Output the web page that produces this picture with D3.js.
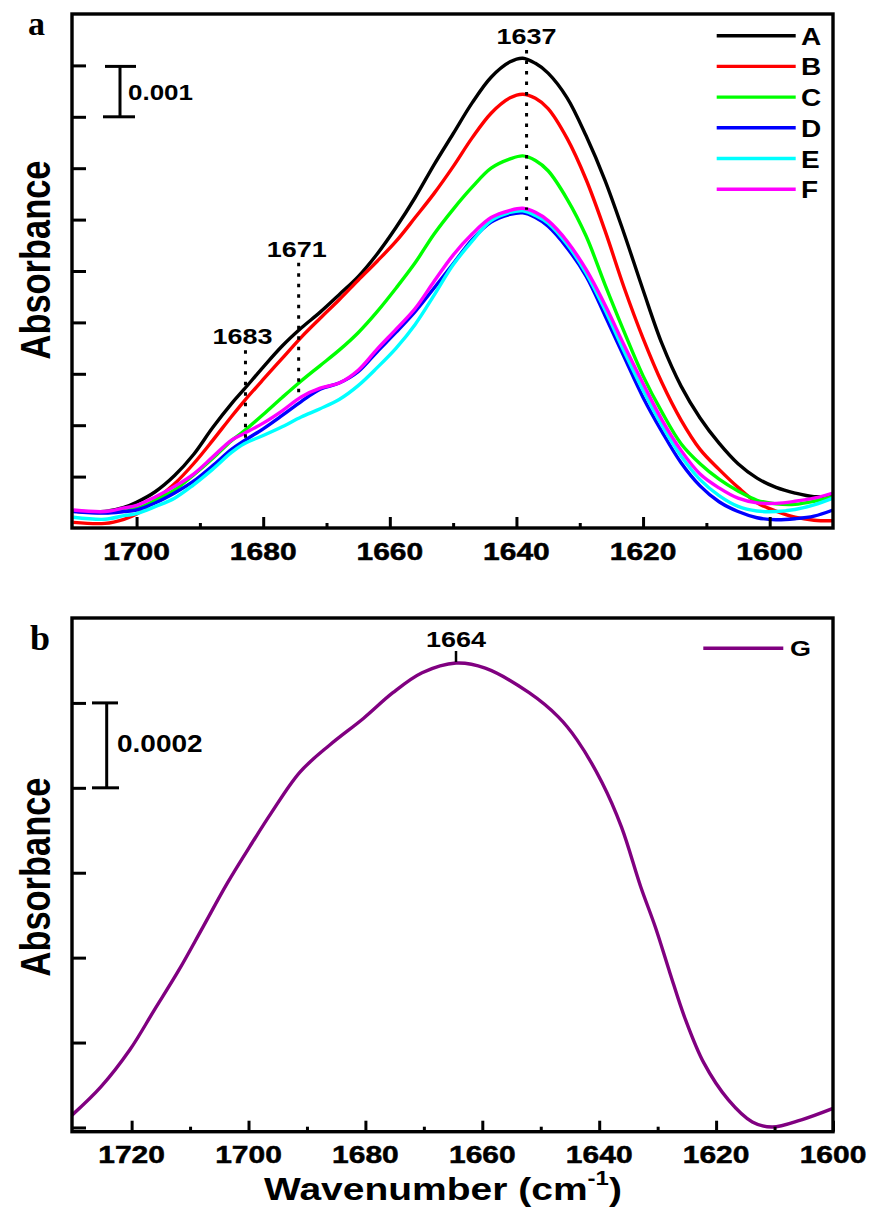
<!DOCTYPE html>
<html><head><meta charset="utf-8">
<script src="https://cdn.jsdelivr.net/npm/d3@7"></script>
<style>body{margin:0;background:#fff}svg{display:block}</style>
</head><body>
<svg id="chart" width="872" height="1207"></svg>
<script>
// ---------------- DATA ----------------
// Panel a: wavenumber grid (cm-1) and absorbance in units of 1e-3
const wavenumbersA = [1710,1705,1702,1700,1697,1694,1691,1688,1685,1683,1680,1677,1674,1671,1668,1665,1662,1659,1656,1653,1650,1647,1644,1641,1639,1637,1635,1632,1629,1626,1623,1620,1617,1614,1611,1608,1605,1602,1599,1596,1593,1590];
const seriesNamesA = ["A","B","C","D","E","F"];
const absA = [0.33,0.32,0.40,0.50,0.71,1.02,1.43,1.95,2.42,2.70,3.13,3.54,3.89,4.20,4.54,4.89,5.33,5.85,6.43,7.07,7.67,8.27,8.77,9.07,9.14,9.04,8.85,8.37,7.63,6.76,5.73,4.63,3.58,2.76,2.14,1.65,1.25,0.97,0.79,0.68,0.61,0.62];
const absB = [0.11,0.09,0.17,0.27,0.55,0.86,1.25,1.70,2.17,2.47,2.89,3.30,3.71,4.08,4.44,4.82,5.19,5.58,6.04,6.51,7.03,7.59,8.07,8.37,8.44,8.36,8.16,7.58,6.78,5.78,4.68,3.69,2.82,2.10,1.53,1.14,0.79,0.49,0.33,0.21,0.15,0.14];
const absC = [0.33,0.30,0.35,0.38,0.54,0.74,1.03,1.35,1.70,1.89,2.21,2.54,2.86,3.16,3.46,3.80,4.21,4.67,5.16,5.72,6.20,6.63,7.00,7.18,7.24,7.15,6.95,6.40,5.68,4.73,3.82,2.96,2.25,1.64,1.25,0.95,0.72,0.54,0.47,0.46,0.52,0.61];
const absD = [0.32,0.29,0.32,0.35,0.49,0.68,0.91,1.21,1.53,1.70,1.93,2.19,2.46,2.70,2.82,3.04,3.43,3.81,4.21,4.67,5.14,5.61,5.95,6.10,6.13,6.04,5.87,5.45,4.90,4.13,3.33,2.54,1.87,1.27,0.82,0.51,0.32,0.20,0.16,0.18,0.23,0.35];
const absE = [0.21,0.17,0.24,0.28,0.42,0.58,0.84,1.14,1.47,1.64,1.80,1.97,2.16,2.32,2.50,2.77,3.12,3.50,3.96,4.53,5.12,5.58,5.98,6.14,6.17,6.08,5.93,5.52,4.96,4.24,3.44,2.68,1.99,1.40,0.94,0.63,0.42,0.33,0.32,0.36,0.45,0.58];
const absF = [0.35,0.32,0.39,0.44,0.61,0.81,1.05,1.38,1.71,1.84,2.04,2.28,2.55,2.72,2.82,3.07,3.48,3.87,4.27,4.80,5.31,5.72,6.04,6.18,6.22,6.14,5.98,5.58,5.03,4.34,3.56,2.81,2.10,1.51,1.05,0.78,0.58,0.49,0.48,0.52,0.58,0.68];
const xMajorTicksA = [1700,1680,1660,1640,1620,1600];
const xMinorTicksA = [1690,1670,1650,1630,1610];
const yTicksA = [1,2,3,4,5,6,7,8,9];
const annotationsA = [
  {label:"1683", wn:1682.8, top:3.46, bottom:1.71},
  {label:"1671", wn:1674.4, top:5.16, bottom:2.55},
  {label:"1637", wn:1638.4, top:9.30, bottom:6.19}
];
const scaleBarA = {from:8, to:9, label:"0.001"};

// Panel b: wavenumber (cm-1) and absorbance in units of 1e-4
const wavenumbersG = [1730.2,1725.3,1720.3,1716.1,1711.9,1707.8,1703.6,1699.4,1696.1,1691.2,1686.1,1680.3,1675.3,1670.3,1664.5,1659.5,1652.0,1647.0,1643.8,1639.5,1636.2,1632.9,1630.4,1627.9,1625.4,1622.1,1617.9,1613.8,1610.4,1605.4,1599.8];
const absG = [0.29,0.95,1.83,2.77,3.71,4.72,5.76,6.70,7.41,8.37,9.01,9.64,10.24,10.71,10.94,10.82,10.24,9.67,9.13,8.12,7.08,5.67,4.72,3.64,2.60,1.52,0.65,0.13,0.01,0.18,0.46];
const xMajorTicksB = [1720,1700,1680,1660,1640,1620,1600];
const xMinorTicksB = [1710,1690,1670,1650,1630,1610];
const yTicksB = [0,2,4,6,8,10];
const annotationsB = [{label:"1664", wn:1664.5, value:10.94}];
const scaleBarB = {from:8, to:10, label:"0.0002"};

// ---------------- STYLE ----------------
const colorsA = {A:"#000000",B:"#ff0000",C:"#00ff00",D:"#0000ff",E:"#00ffff",F:"#ff00ff"};
const colorG = "#800080";
const FONT = "'Liberation Sans', Arial, Helvetica, sans-serif";
const SERIF = "'Liberation Serif', 'Times New Roman', serif";
const K = 0.84;

const svg = d3.select("#chart");

function hText(x, y, str, size, anchor, k) {
  return svg.append("text")
    .attr("transform", `translate(${x},${y}) scale(1,${k === undefined ? K : k})`)
    .attr("text-anchor", anchor || "middle")
    .attr("font-family", FONT).attr("font-weight", "bold")
    .attr("font-size", size).attr("fill", "#000").text(str);
}

function panel(cfg) {
  const {x, y} = cfg;
  const g = svg.append("g");
  const clipId = "clip" + cfg.id;
  svg.append("clipPath").attr("id", clipId).append("rect")
    .attr("x", x.range()[0]).attr("y", y.range()[1])
    .attr("width", x.range()[1] - x.range()[0]).attr("height", y.range()[0] - y.range()[1]);

  // curves
  const line = d3.line().x(d => x(d[0])).y(d => y(d[1])).curve(d3.curveCatmullRom.alpha(0.5));
  const cg = g.append("g").attr("clip-path", `url(#${clipId})`);
  cfg.series.forEach(s => {
    cg.append("path").datum(s.wn.map((w, i) => [w, s.values[i]]))
      .attr("d", line).attr("fill", "none").attr("stroke", s.color)
      .attr("stroke-width", 3.4).attr("stroke-linejoin", "round");
  });

  // ticks via d3 axes
  const yB = y.range()[0];
  const majorAx = g.append("g").attr("transform", `translate(0,${yB})`)
    .call(d3.axisBottom(x).tickValues(cfg.xMajor).tickSize(-11).tickFormat(""));
  const minorAx = g.append("g").attr("transform", `translate(0,${yB})`)
    .call(d3.axisBottom(x).tickValues(cfg.xMinor).tickSize(-5).tickFormat(""));
  const leftAx = g.append("g").attr("transform", `translate(${x.range()[0]},0)`)
    .call(d3.axisLeft(y).tickValues(cfg.yTicks).tickSize(-14).tickFormat(""));
  [majorAx, minorAx, leftAx].forEach(a => {
    a.select(".domain").remove();
    a.selectAll("line").attr("stroke", "#000").attr("stroke-width", 3);
  });

  // frame
  g.append("rect").attr("x", x.range()[0]).attr("y", y.range()[1])
    .attr("width", x.range()[1] - x.range()[0]).attr("height", y.range()[0] - y.range()[1])
    .attr("fill", "none").attr("stroke", "#000").attr("stroke-width", 3.4);

  // tick labels
  cfg.xMajor.forEach(v => {
    if (x(v) < x.range()[1] + 1) hText(x(v), cfg.tickLabelY, String(v), 30, "middle", 0.82)
      .attr("stroke", "#000").attr("stroke-width", 0.6);
  });
  return g;
}

// ---------------- PANEL A ----------------
const xA = d3.scaleLinear().domain([1710.2, 1590]).range([72, 833]);
const yA = d3.scaleLinear().domain([0, 10]).range([528, 14]);
const absByName = {A:absA, B:absB, C:absC, D:absD, E:absE, F:absF};
panel({
  id: "a", x: xA, y: yA,
  series: seriesNamesA.map(n => ({wn: wavenumbersA, values: absByName[n], color: colorsA[n]})),
  xMajor: xMajorTicksA, xMinor: xMinorTicksA, yTicks: yTicksA, tickLabelY: 560
});

// annotations (dotted lines)
annotationsA.forEach(a => {
  svg.append("line").attr("x1", xA(a.wn)).attr("x2", xA(a.wn))
    .attr("y1", yA(a.top)).attr("y2", yA(a.bottom))
    .attr("stroke", "#000").attr("stroke-width", 3).attr("stroke-dasharray", "3.5,7");
  hText(xA(a.wn) - (a.label === "1683" ? 3 : (a.label === "1671" ? 2 : 0)), yA(a.top) - 6, a.label, 27, "middle", 0.85);
});

// scale bar a
{
  const bx = 120;
  const t = yA(scaleBarA.to), b = yA(scaleBarA.from);
  svg.append("line").attr("x1", bx).attr("x2", bx).attr("y1", t).attr("y2", b).attr("stroke", "#000").attr("stroke-width", 3);
  svg.append("line").attr("x1", 105).attr("x2", 136).attr("y1", t + 1).attr("y2", t + 1).attr("stroke", "#000").attr("stroke-width", 3);
  svg.append("line").attr("x1", 103).attr("x2", 135).attr("y1", b).attr("y2", b).attr("stroke", "#000").attr("stroke-width", 3);
  hText(128, 100, scaleBarA.label, 26, "start", 0.85);
}

// legend a
seriesNamesA.forEach((n, i) => {
  const ly = 35.7 + i * 30.7;
  svg.append("line").attr("x1", 716.7).attr("x2", 795.7).attr("y1", ly).attr("y2", ly)
    .attr("stroke", colorsA[n]).attr("stroke-width", 3.4);
  hText(801, ly + 9, n, 28, "start", 0.85);
});

// panel letter and y label
svg.append("text").attr("x", 28).attr("y", 35).attr("font-family", SERIF).attr("font-weight", "bold")
  .attr("font-size", 34).text("a");
svg.append("text").attr("transform", "translate(50,260) rotate(-90) scale(0.82,1)")
  .attr("text-anchor", "middle").attr("font-family", FONT).attr("font-weight", "bold")
  .attr("font-size", 42).text("Absorbance");

// ---------------- PANEL B ----------------
const xB = d3.scaleLinear().domain([1730.2, 1600]).range([72, 833]);
const yBs = d3.scaleLinear().domain([-0.1, 12]).range([1131.7, 618]);
panel({
  id: "b", x: xB, y: yBs,
  series: [{wn: wavenumbersG, values: absG, color: colorG}],
  xMajor: xMajorTicksB, xMinor: xMinorTicksB, yTicks: yTicksB, tickLabelY: 1163
});

annotationsB.forEach(a => {
  svg.append("line").attr("x1", xB(a.wn)).attr("x2", xB(a.wn))
    .attr("y1", yBs(a.value) - 12).attr("y2", yBs(a.value) - 1)
    .attr("stroke", "#000").attr("stroke-width", 2.5);
  hText(xB(a.wn), 647, a.label, 27, "middle", 0.85);
});

// scale bar b
{
  const bx = 106.7;
  const t = yBs(scaleBarB.to), b = yBs(scaleBarB.from);
  svg.append("line").attr("x1", bx).attr("x2", bx).attr("y1", t).attr("y2", b).attr("stroke", "#000").attr("stroke-width", 3);
  svg.append("line").attr("x1", 92).attr("x2", 118).attr("y1", t).attr("y2", t).attr("stroke", "#000").attr("stroke-width", 3);
  svg.append("line").attr("x1", 92).attr("x2", 119).attr("y1", b).attr("y2", b).attr("stroke", "#000").attr("stroke-width", 3);
  hText(117, 752, scaleBarB.label, 28, "start", 0.85);
}

// legend b
svg.append("line").attr("x1", 703.3).attr("x2", 783.3).attr("y1", 648.3).attr("y2", 648.3)
  .attr("stroke", colorG).attr("stroke-width", 3.4);
hText(790, 656, "G", 27, "start", 0.85);

svg.append("text").attr("x", 30).attr("y", 650).attr("font-family", SERIF).attr("font-weight", "bold")
  .attr("font-size", 36).text("b");
svg.append("text").attr("transform", "translate(50,877) rotate(-90) scale(0.82,1)")
  .attr("text-anchor", "middle").attr("font-family", FONT).attr("font-weight", "bold")
  .attr("font-size", 42).text("Absorbance");

// x-axis title
{
  const t = svg.append("text").attr("transform", "translate(443,1200) scale(1,0.82)")
    .attr("text-anchor", "middle").attr("font-family", FONT).attr("font-weight", "bold")
    .attr("font-size", 39);
  t.append("tspan").text("Wavenumber (cm");
  t.append("tspan").attr("font-size", 24).attr("dy", -18).text("-1");
  t.append("tspan").attr("dy", 18).text(")");
}
</script>
</body></html>
